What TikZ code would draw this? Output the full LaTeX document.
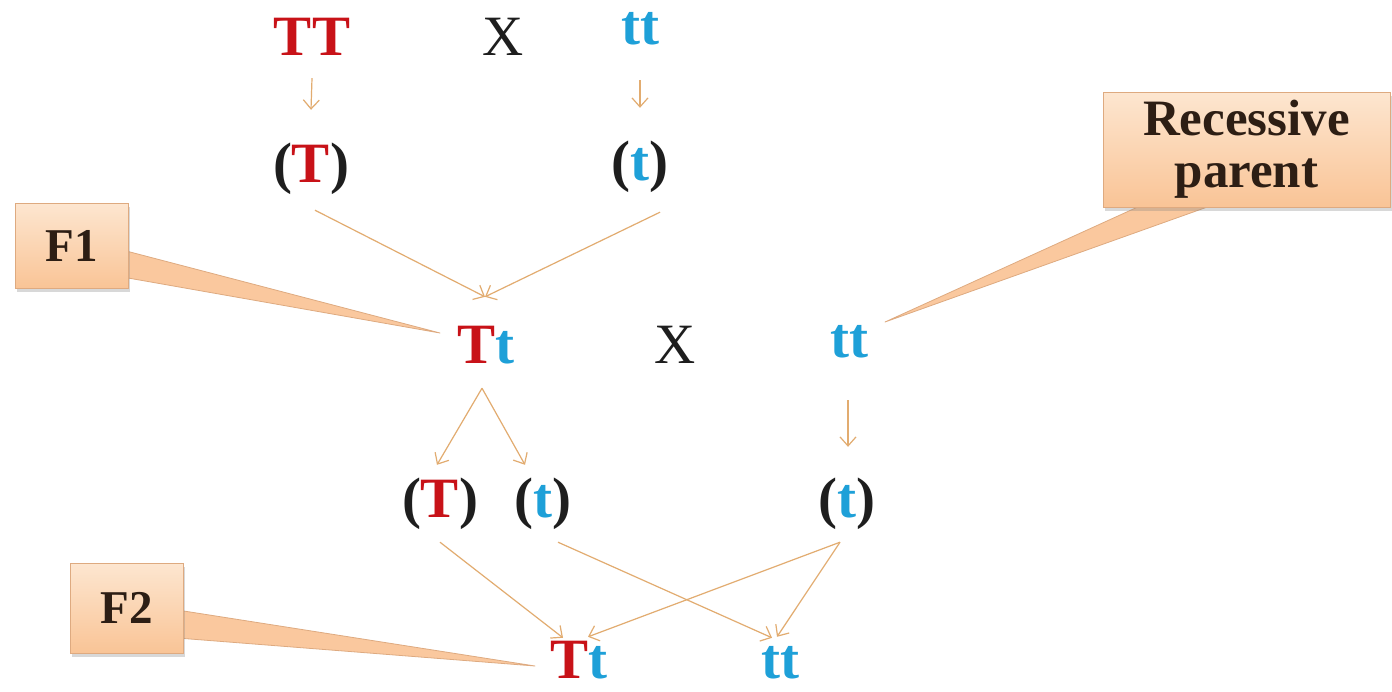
\documentclass[tikz,border=0pt]{standalone}
\usepackage{fontspec}
\setmainfont{Liberation Serif}
\usetikzlibrary{arrows.meta,shadows}
\definecolor{tred}{RGB}{200,18,24}
\definecolor{tblue}{RGB}{30,160,216}
\definecolor{arrc}{RGB}{226,172,112}
\definecolor{boxtop}{RGB}{253,230,208}
\definecolor{boxbot}{RGB}{249,196,150}
\definecolor{boxedge}{RGB}{222,170,128}
\definecolor{ptrfill}{RGB}{250,200,158}
\definecolor{boxtext}{RGB}{45,30,20}
\definecolor{ink}{RGB}{30,30,30}
\pgfdeclarelayer{bg}
\pgfdeclarelayer{ptr}
\pgfsetlayers{bg,ptr,main}
\begin{document}
\begin{tikzpicture}[x=1pt,y=-1pt,
  gene/.style={anchor=base,inner sep=0pt,text height=40pt,text depth=12pt,
    font=\fontsize{57}{60}\selectfont\bfseries,text=ink},
  cross/.style={anchor=base,inner sep=0pt,text height=40pt,text depth=12pt,
    font=\fontsize{57}{60}\selectfont,text=ink},
  arr/.style={draw=arrc,line width=1.2pt,-{Straight Barb[length=9pt,width=16pt]}},
  callout/.style={draw=boxedge,line width=0.8pt,top color=boxtop,bottom color=boxbot,
    inner sep=0pt,text=boxtext,align=center,
    drop shadow={opacity=0.3,shadow xshift=2pt,shadow yshift=-4pt}},
  pointer/.style={draw=boxedge,line width=0.8pt,fill=ptrfill,line join=round}
]
\begin{pgfonlayer}{bg}
\fill[white] (0,0) rectangle (1392,691);
\end{pgfonlayer}
\useasboundingbox (0,0) rectangle (1392,691);

% parents
\node[gene] (TT) at (312,55) {\textcolor{tred}{TT}};
\node[cross] (X1) at (503,55) {X};
\node[gene] (tt1) at (640,44) {\textcolor{tblue}{tt}};
% gametes
\node[gene] (gT1) at (311,182) {(\textcolor{tred}{T})};
\node[gene] (gt1) at (640,180) {(\textcolor{tblue}{t})};
% F1 cross
\node[gene] (TtM) at (486,363) {\textcolor{tred}{T}\textcolor{tblue}{t}};
\node[cross] (X2) at (675,363) {X};
\node[gene] (ttM) at (849,357) {\textcolor{tblue}{tt}};
% gametes
\node[gene] (gT2) at (440,517) {(\textcolor{tred}{T})};
\node[gene] (gt2) at (543,517) {(\textcolor{tblue}{t})};
\node[gene] (gt3) at (847,517) {(\textcolor{tblue}{t})};
% F2
\node[gene,text depth=0pt] (TtB) at (579,678) {\textcolor{tred}{T}\textcolor{tblue}{t}};
\node[gene,text depth=0pt] (ttB) at (780,678) {\textcolor{tblue}{tt}};

% arrows
\draw[arr] ([yshift=-11pt]TT.south) -- ([yshift=32pt]gT1.north);
\draw[arr] ([yshift=-24pt]tt1.south) -- ([yshift=32pt]gt1.north);
\draw[arr] ([xshift=4pt,yshift=-16pt]gT1.south) -- ([xshift=-1pt,yshift=26pt]TtM.north);
\draw[arr] ([xshift=20pt,yshift=-20pt]gt1.south) -- ([xshift=-1pt,yshift=26pt]TtM.north);
\draw[arr] ([xshift=-4pt,yshift=-13pt]TtM.south) -- ([xshift=-3pt,yshift=12pt]gT2.north);
\draw[arr] ([xshift=-4pt,yshift=-13pt]TtM.south) -- ([xshift=-18pt,yshift=12pt]gt2.north);
\draw[arr] ([xshift=-1pt,yshift=-31pt]ttM.south) -- ([xshift=1pt,yshift=30pt]gt3.north);
\draw[arr] ([yshift=-13pt]gT2.south) -- ([xshift=-16pt,yshift=0pt]TtB.north);
\draw[arr] ([xshift=15pt,yshift=-13pt]gt2.south) -- ([xshift=-8pt,yshift=0pt]ttB.north);
\draw[arr] ([xshift=-7pt,yshift=-13pt]gt3.south) -- ([xshift=9pt,yshift=1pt]TtB.north);
\draw[arr] ([xshift=-7pt,yshift=-13pt]gt3.south) -- ([xshift=-3pt,yshift=1pt]ttB.north);

% callouts
\node[callout,minimum width=113pt,minimum height=85pt,font=\fontsize{47}{50}\selectfont\bfseries]
  (F1) at (71.5,245.5) {F1};
\node[callout,minimum width=113pt,minimum height=90pt,font=\fontsize{47}{50}\selectfont\bfseries]
  (F2) at (126.5,608) {F2};
\node[callout,minimum width=287pt,minimum height=115pt,font=\fontsize{51}{52}\selectfont\bfseries]
  (RP) at (1246.5,149.5) {Recessive\\parent};

\begin{pgfonlayer}{ptr}
\filldraw[pointer] ([xshift=-6pt,yshift=-4.5pt]F1.east) -- ([xshift=-46pt,yshift=30pt]TtM.base)
  -- ([xshift=-6pt,yshift=-31.5pt]F1.east) -- cycle;
\filldraw[pointer] ([xshift=-6pt,yshift=-2pt]F2.east) -- ([xshift=-44pt,yshift=12pt]TtB.base)
  -- ([xshift=-6pt,yshift=-30pt]F2.east) -- cycle;
\filldraw[pointer] ([xshift=-96.5pt,yshift=6pt]RP.south) -- ([xshift=36pt,yshift=35pt]ttM.base)
  -- ([xshift=-23.5pt,yshift=6pt]RP.south) -- cycle;
\end{pgfonlayer}
\end{tikzpicture}
\end{document}
